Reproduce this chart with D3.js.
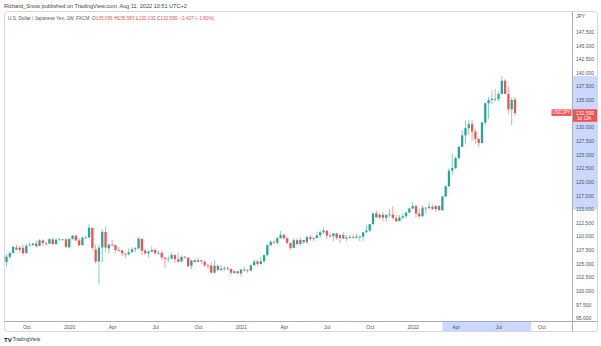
<!DOCTYPE html>
<html><head><meta charset="utf-8">
<script src="https://cdn.jsdelivr.net/npm/d3@7"></script>
<style>body{margin:0;background:#fff;} svg{display:block;font-family:"Liberation Sans",Arial,sans-serif;}</style>
</head><body><svg id="c" width="601" height="346"></svg>
<script>
// ---- data: USD/JPY weekly candles, week of 2019-08-19 .. 2022-08-08 ----
const firstWeek = "2019-08-19";
const lastWeek = "2022-08-08";
const opens = [106.40,105.30,106.25,106.95,107.95,107.55,107.90,106.95,108.35,108.40,108.70,108.25,109.25,108.80,108.65,109.45,108.60,109.35,109.40,109.45,
108.00,109.50,110.15,109.25,108.40,109.75,109.80,111.55,107.60,105.40,107.95,110.80,107.80,108.50,108.40,107.50,107.45,106.80,106.70,107.10,
107.60,107.80,109.55,107.40,106.90,107.20,107.50,106.90,107.00,106.10,105.85,105.90,106.60,105.80,105.40,106.25,106.10,104.60,105.60,105.35,
105.60,105.40,104.70,104.65,103.35,104.60,103.85,104.05,104.15,104.00,103.30,103.60,103.20,103.90,103.85,103.75,104.70,105.40,104.90,105.45,
106.55,108.35,109.00,108.85,109.65,110.30,109.65,108.80,107.90,109.30,108.60,109.35,108.95,109.85,109.50,109.70,110.20,110.75,111.05,110.15,
110.05,110.55,109.70,110.25,109.60,109.80,109.85,109.70,109.90,109.95,110.75,111.05,112.25,114.20,113.45,113.95,113.40,113.90,114.00,113.35,
112.80,113.45,113.70,114.35,115.10,115.55,114.20,113.70,115.25,115.20,115.40,115.00,115.55,114.80,117.30,119.20,122.05,122.50,124.35,126.40,
128.50,129.85,130.55,129.20,127.85,127.10,130.85,134.40,135.00,135.20,135.20,136.10,138.55,136.10,133.30,135.095];
const highs = [106.73,106.70,107.23,108.25,108.48,108.18,108.47,108.63,108.94,108.84,109.29,109.48,109.49,109.11,109.68,109.73,109.70,109.70,109.55,109.70,
109.69,110.29,110.20,109.67,110.02,110.14,112.23,111.63,108.54,108.50,111.32,111.71,108.72,109.38,108.50,108.05,107.49,107.00,107.75,107.96,
108.08,109.85,109.59,107.64,107.48,108.16,107.80,107.41,107.34,106.21,106.48,107.05,106.65,106.95,106.55,106.38,106.17,105.70,105.80,106.11,
105.75,105.49,104.93,105.34,105.65,104.83,104.75,104.52,104.50,104.13,103.90,103.69,103.96,104.40,103.96,104.94,105.76,105.65,106.22,106.69,
108.64,109.24,109.36,109.85,110.97,110.48,109.78,108.84,109.66,109.69,109.79,109.35,110.20,110.33,109.85,110.82,111.11,111.66,111.11,110.70,
110.59,110.59,110.37,110.80,110.25,110.25,110.41,110.44,110.15,110.79,112.08,112.25,114.47,114.70,114.30,114.44,114.12,114.97,115.52,113.95,
113.94,114.26,114.55,115.20,116.35,115.85,115.06,115.69,115.37,116.34,115.85,115.76,115.81,117.46,119.40,122.44,125.10,124.68,126.68,129.41,
131.25,131.35,131.34,129.78,128.10,130.99,134.56,135.59,136.71,137.01,136.56,139.39,138.88,137.46,135.50,135.583];
const lows = [105.05,104.45,105.75,106.90,107.45,107.00,106.48,106.77,108.25,108.25,107.89,108.25,108.24,108.24,108.62,108.43,108.42,109.23,109.19,107.85,
107.77,109.44,109.06,108.31,108.31,109.55,109.70,107.51,105.00,101.18,105.16,107.12,106.92,108.15,106.93,107.23,106.35,106.00,106.53,106.99,
107.10,107.62,106.58,106.66,106.07,107.20,106.64,106.67,105.68,104.19,105.29,105.81,105.10,105.20,105.19,105.88,104.28,104.00,105.21,105.30,
104.95,104.34,104.02,103.18,103.12,103.65,103.70,103.66,103.77,102.88,103.15,102.96,102.59,103.52,103.33,103.56,104.62,104.50,104.90,105.14,
106.36,108.34,108.61,108.42,109.62,109.38,108.61,107.48,107.80,108.34,108.34,108.57,108.55,109.18,109.19,109.65,109.72,110.42,109.53,109.73,
109.07,109.36,108.72,109.55,109.12,109.60,109.59,109.58,109.11,109.11,110.70,110.82,112.10,113.42,113.25,112.73,112.72,113.59,113.06,112.53,
112.80,113.14,113.26,114.27,115.03,113.48,113.46,113.47,114.16,114.93,114.80,114.41,114.65,114.65,117.21,118.98,121.28,122.38,124.11,126.36,
126.95,128.63,127.52,126.94,126.36,127.10,130.40,131.50,134.27,134.74,134.76,135.98,136.27,132.50,130.40,132.032];
const closes = [105.38,106.28,106.92,108.09,107.56,107.92,106.92,108.28,108.45,108.67,108.20,109.26,108.77,108.67,109.48,108.60,109.37,109.44,109.45,108.09,
109.49,110.15,109.27,108.35,109.75,109.78,111.60,107.89,105.39,107.95,110.84,107.94,108.48,108.45,107.51,107.49,106.90,106.65,107.08,107.62,
107.82,109.60,107.37,106.88,107.21,107.51,106.92,106.98,106.14,105.87,105.92,106.60,105.80,105.37,106.22,106.15,104.55,105.60,105.30,105.61,
105.41,104.71,104.65,103.35,104.63,103.84,104.08,104.17,104.05,103.33,103.61,103.25,103.94,103.86,103.78,104.68,105.38,104.95,105.44,106.56,
108.37,109.04,108.88,109.67,110.28,109.67,108.80,107.88,109.30,108.59,109.36,108.94,109.84,109.52,109.66,110.20,110.77,111.05,110.15,110.07,
110.55,109.72,110.25,109.61,109.78,109.85,109.71,109.93,109.97,110.74,111.05,112.23,114.21,113.47,113.96,113.41,113.90,114.00,113.38,112.80,
113.45,113.70,114.35,115.10,115.56,114.19,113.67,115.26,115.22,115.43,115.03,115.56,114.82,117.31,119.18,122.05,122.52,124.33,126.42,128.51,
129.84,130.56,129.20,127.87,127.11,130.87,134.40,134.98,135.21,135.20,136.09,138.55,136.09,133.28,135.00,132.599];
const priceTicks = [95,97.5,100,102.5,105,107.5,110,112.5,115,117.5,120,122.5,125,127.5,130,135,137.5,140,142.5,145,147.5];
const timeTickDates = ["2019-10-07","2020-01-06","2020-04-06","2020-07-06","2020-10-05","2021-01-04","2021-04-05","2021-07-05","2021-10-04","2022-01-03","2022-04-04","2022-07-04","2022-10-03"];
const timeTickLabels = ["Oct","2020","Apr","Jul","Oct","2021","Apr","Jul","Oct","2022","Apr","Jul","Oct"];
const rangeDates = ["2022-03-07","2022-09-11"];
const rangePrices = [114.9, 139.39];
const lastPrice = 132.599;
const countdown = "1d 13h";
const symbol = "USDJPY";
const headerText = "Richard_Snow published on TradingView.com, Aug 11, 2022 10:51 UTC+2";
const legendName = "U.S. Dollar / Japanese Yen, 1W, FXCM";
const legendParts = [["O","135.095"],["H","135.583"],["L","132.032"],["C","132.599"]];
const legendChange = "\u22122.427 (\u22121.80%)";

// ---- build ----
const parse = d3.utcParse("%Y-%m-%d");
const weeks = d3.utcMonday.range(parse(firstWeek), d3.utcDay.offset(parse(lastWeek), 1));
const data = weeks.map((d, i) => ({d, o: opens[i], h: highs[i], l: lows[i], c: closes[i]}));

const UP = "#26a69a", DOWN = "#ef5350", HL = "rgb(202,216,255)";
const svg = d3.select("#c");
const plotL = 4.5, plotR = 572.5, plotT = 12, plotB = 321.5, frameB = 331.5, frameR = 597.5;

const x = d3.scaleUtc().domain([parse(firstWeek), parse(lastWeek)]).range([3.2, 515]);
const y = d3.scaleLinear().domain([95, 147.5]).range([318.2, 31.8]);

svg.append("defs").append("clipPath").attr("id", "plot")
  .append("rect").attr("x", plotL).attr("y", plotT).attr("width", plotR - plotL).attr("height", plotB - plotT);

// header
svg.append("text").attr("x", 4).attr("y", 7.5).attr("font-size", 5.55).attr("fill", "#444").text(headerText);

// frame
svg.append("rect").attr("x", plotL).attr("y", plotT - 0.5).attr("width", frameR - plotL).attr("height", frameB - plotT + 0.5)
  .attr("rx", 3).attr("fill", "none").attr("stroke", "#d6d8de").attr("stroke-width", 1);

// highlights on axes
svg.append("rect").attr("x", x(parse(rangeDates[0]))).attr("y", plotB)
  .attr("width", x(parse(rangeDates[1])) - x(parse(rangeDates[0]))).attr("height", frameB - plotB - 0.5).attr("fill", HL);
svg.append("rect").attr("x", plotR).attr("y", y(rangePrices[1]))
  .attr("width", frameR - plotR - 0.5).attr("height", y(rangePrices[0]) - y(rangePrices[1])).attr("fill", HL);

// axis lines
svg.append("line").attr("x1", plotL).attr("x2", frameR).attr("y1", plotB).attr("y2", plotB).attr("stroke", "#a9acb5");
svg.append("line").attr("x1", plotR).attr("x2", plotR).attr("y1", plotT - 0.5).attr("y2", frameB).attr("stroke", "#a9acb5");

// legend
const lg = svg.append("text").attr("x", 8).attr("y", 19.5).attr("font-size", 4.7).attr("fill", "#555");
lg.append("tspan").text(legendName + " ");
legendParts.forEach(([k, v]) => {
  lg.append("tspan").attr("dx", 1.5).attr("fill", "#555").text(k);
  lg.append("tspan").attr("fill", DOWN).text(v);
});
lg.append("tspan").attr("dx", 1.8).attr("fill", DOWN).text(legendChange);

// candles
const g = svg.append("g").attr("clip-path", "url(#plot)");
g.selectAll("line.w").data(data).join("line").attr("class", "w")
  .attr("x1", d => x(d.d)).attr("x2", d => x(d.d))
  .attr("y1", d => y(d.h)).attr("y2", d => y(d.l))
  .attr("stroke", d => d.c >= d.o ? UP : DOWN).attr("stroke-width", 1).attr("stroke-opacity", 0.55);
g.selectAll("rect.b").data(data).join("rect").attr("class", "b")
  .attr("x", d => x(d.d) - 1.15).attr("width", 2.3)
  .attr("y", d => y(Math.max(d.o, d.c)))
  .attr("height", d => Math.max(0.8, Math.abs(y(d.o) - y(d.c))))
  .attr("fill", d => d.c >= d.o ? UP : DOWN);

// price axis
const ya = svg.append("g").attr("transform", `translate(${plotR},0)`)
  .call(d3.axisRight(y).tickValues(priceTicks).tickFormat(d3.format(".3f")).tickSize(0).tickPadding(3.5));
ya.select(".domain").remove();
ya.selectAll("text").attr("font-size", 5).attr("fill", "#50535e").attr("font-family", "Liberation Sans, Arial, sans-serif");
svg.append("text").attr("x", 576).attr("y", 17.5).attr("font-size", 5).attr("fill", "#50535e").text("JPY");

// time axis
const xa = svg.append("g").attr("transform", `translate(0,${plotB})`)
  .call(d3.axisBottom(x).tickValues(timeTickDates.map(parse)).tickFormat((d, i) => timeTickLabels[i]).tickSize(0).tickPadding(3.5));
xa.select(".domain").remove();
xa.selectAll("text").attr("font-size", 5).attr("fill", "#50535e").attr("font-family", "Liberation Sans, Arial, sans-serif");

// last price labels
const ly = y(lastPrice);
svg.append("rect").attr("x", plotR + 0.5).attr("y", ly - 3.8).attr("width", frameR - plotR - 1).attr("height", 12.5).attr("fill", DOWN);
svg.append("text").attr("x", 576).attr("y", ly + 1.8).attr("font-size", 5).attr("fill", "#fff").text(d3.format(".3f")(lastPrice));
svg.append("text").attr("x", 577).attr("y", ly + 7.2).attr("font-size", 4.6).attr("fill", "#fff").text(countdown);
svg.append("rect").attr("x", 551.5).attr("y", ly - 3.7).attr("width", 20).attr("height", 6.5).attr("fill", DOWN);
svg.append("text").attr("x", 561.5).attr("y", ly + 1.4).attr("text-anchor", "middle").attr("font-size", 4.6).attr("fill", "#fff").text(symbol);

// footer logo
svg.append("text").attr("x", 4).attr("y", 341.5).attr("font-size", 6).attr("font-weight", "bold").attr("fill", "#131722").text("TV");
svg.append("text").attr("x", 12.5).attr("y", 341.3).attr("font-size", 5).attr("fill", "#333").text("TradingView");
</script></body></html>
